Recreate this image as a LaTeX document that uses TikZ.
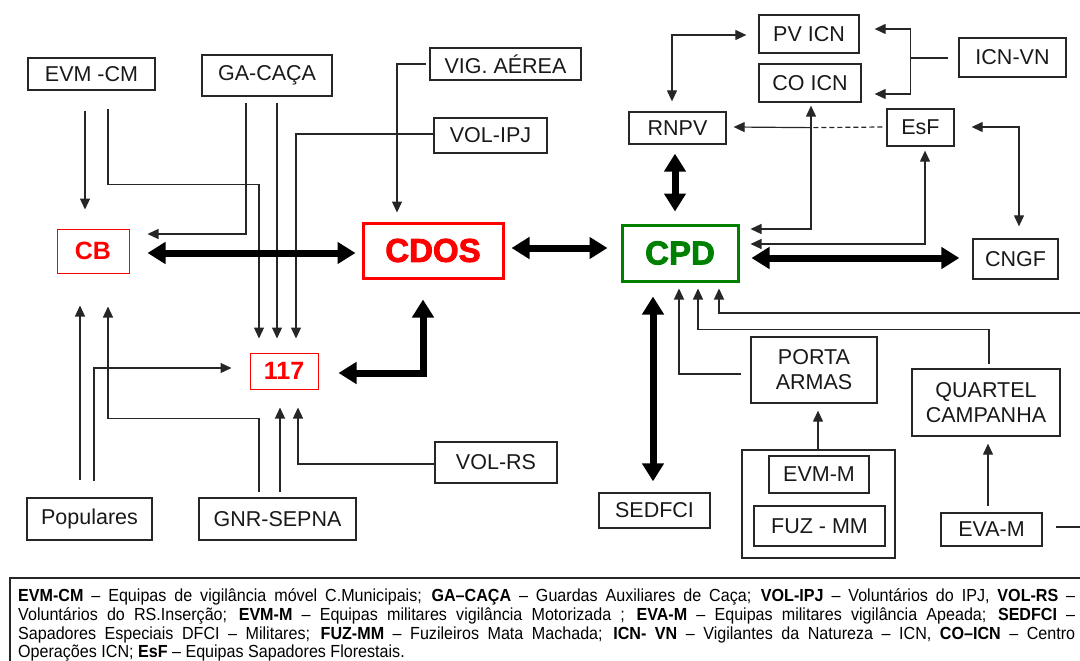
\documentclass[tikz,border=0pt]{standalone}
\usepackage{fontspec}
\setmainfont{Liberation Sans}
\newfontfamily\legendfont[FakeStretch=0.92]{Liberation Sans}
\newfontfamily\heavyfont[FakeBold=2.5]{Liberation Sans Bold}
\usetikzlibrary{arrows.meta,calc}
\definecolor{cpdgreen}{RGB}{0,128,0}
\definecolor{boxred}{RGB}{255,0,0}
\begin{document}
\begin{tikzpicture}[x=1pt,y=-1pt,
  box/.style={draw=black!85, line width=1.3pt, inner sep=0pt, align=center,
    font=\fontsize{21.5}{25}\selectfont, text=black!90},
  redbox/.style={draw=boxred, line width=1pt, inner sep=0pt, text=boxred,
    font=\fontsize{25}{28}\bfseries\selectfont},
  bigbox/.style={line width=3pt, inner sep=0pt, font=\heavyfont\fontsize{33}{36}\selectfont},
  plainline/.style={line width=1.2pt, draw=black!85},
  tarr/.style={plainline, -{Triangle[width=10pt,length=11pt]}},
  tarrr/.style={plainline, {Triangle[width=10pt,length=11pt]}-{Triangle[width=10pt,length=11pt]}},
  thk/.style={line width=7pt, draw=black, {Triangle[width=21pt,length=18pt]}-{Triangle[width=21pt,length=18pt]}},
  legtext/.style={anchor=base west, inner sep=0pt, font=\legendfont\fontsize{17.5}{19}\selectfont}
]
\useasboundingbox (0,0) rectangle (1080,661);

% ---- nodes, left part
\node[box, minimum width=127, minimum height=32] (evmcm) at (91.5,74) {EVM -CM};
\node[box, minimum width=130, minimum height=41] (gacaca) at (267,75.5) {GA-CAÇA};
\node[box, minimum width=151, minimum height=32] (vig) at (505.5,64) {VIG. AÉREA};
\node[box, minimum width=113, minimum height=35] (volipj) at (490.5,135.5) {VOL-IPJ};
\node[redbox, minimum width=72, minimum height=44] (cb) at (93,251) {CB};
\node[bigbox, draw=boxred, text=boxred, minimum width=140, minimum height=55] (cdos) at (433,250.5) {CDOS};
\node[redbox, minimum width=68, minimum height=36] (n117) at (284,371) {117};
\node[box, minimum width=122, minimum height=41] (volrs) at (496,462.5) {VOL-RS};
\node[box, minimum width=125, minimum height=42] (populares) at (89.5,519) {Populares};
\node[box, minimum width=157, minimum height=42] (gnr) at (277.5,519) {GNR-SEPNA};

% ---- nodes, right part
\node[box, minimum width=100, minimum height=38] (pvicn) at (809,34) {PV ICN};
\node[box, minimum width=102, minimum height=38] (coicn) at (810,83) {CO ICN};
\node[box, minimum width=107, minimum height=39] (icnvn) at (1012.5,57.5) {ICN-VN};
\node[box, minimum width=97, minimum height=32] (rnpv) at (677.5,128) {RNPV};
\node[box, minimum width=67, minimum height=37] (esf) at (920.5,127.5) {EsF};
\node[bigbox, draw=cpdgreen, text=cpdgreen, minimum width=116, minimum height=56] (cpd) at (680,253) {CPD};
\node[box, minimum width=85, minimum height=40] (cngf) at (1015.5,259) {CNGF};
\node[box, minimum width=111, minimum height=35] (sedfci) at (654.5,510.5) {SEDFCI};
\node[box, minimum width=126, minimum height=66] (porta) at (814,370) {PORTA\\ARMAS};
\node[box, minimum width=148, minimum height=67] (quartel) at (986,402.5) {QUARTEL\\CAMPANHA};
\node[box, minimum width=153, minimum height=108] (group) at (818.5,504) {};
\node[box, minimum width=100, minimum height=37] (evmm) at (819,474.5) {EVM-M};
\node[box, minimum width=131, minimum height=40] (fuz) at (819.5,526) {FUZ - MM};
\node[box, minimum width=101, minimum height=33] (evam) at (991.5,529.5) {EVA-M};

\coordinate (rightedge) at (1080,313);
\coordinate (evamedge) at (1080,527);

% ---- connectors, left part
\draw[tarr] ($(evmcm.south)+(-6.5,20)$) -- ($(cb.north)+(-8,-19)$);
\draw[tarr] ($(evmcm.south)+(16.5,18)$) |- ($(n117.north)+(-25,-168)$) -- ($(n117.north)+(-25,-14)$);
\draw[tarr] ($(gacaca.south)+(-21,6)$) |- ($(cb.east)+(18,-17)$);
\draw[tarr] ($(gacaca.south)+(10,6)$) -- ($(n117.north)+(-7,-14)$);
\draw[tarr] ($(volipj.west)+(0,-1.5)$) -| ($(n117.north)+(12,-14)$);
\draw[tarr] ($(vig.west)+(-3,0)$) -| ($(cdos.north)+(-36,-9)$);
\draw[thk] ($(cb.east)+(18,2)$) -- ($(cdos.west)+(-6,2.5)$);
\draw[thk] ($(cdos.east)+(7,-2.5)$) -- ($(cpd.west)+(-13,-5)$);
\draw[thk] ($(n117.east)+(20,2)$) -| ($(cdos.south)+(-10,20)$);
\draw[tarr] ($(populares.north)+(-9.5,-17)$) -- ($(cb.south)+(-13,32)$);
\draw[tarr] ($(populares.north)+(4.5,-16)$) |- ($(n117.west)+(-18,-3)$);
\draw[tarr] ($(gnr.north)+(-18.5,-5)$) |- ($(cb.south)+(15,145)$) -- ($(cb.south)+(15,33)$);
\draw[tarr] ($(gnr.north)+(2.5,-5)$) -- ($(n117.south)+(-4,18)$);
\draw[tarr] ($(volrs.west)+(0,1.5)$) -| ($(n117.south)+(14,18)$);

% ---- connectors, right part
\draw[tarrr] ($(rnpv.north)+(-5.5,-10)$) |- ($(pvicn.west)+(-12,1)$);
\draw[plainline] ($(icnvn.west)+(-10,0.5)$) -- ++(-38,0) coordinate (icnj);
\draw[tarr] (icnj) |- ($(pvicn.east)+(15,-5)$);
\draw[tarr] (icnj) |- ($(coicn.east)+(13,11)$);
\draw[plainline, dash pattern=on 5pt off 3pt] ($(esf.west)+(-4,-0.5)$) -- ($(coicn.south)+(1,25)$);
\draw[tarr] ($(coicn.south)+(1,25)$) -- ($(rnpv.east)+(7,-1)$);
\draw[tarrr] ($(coicn.south)+(1,3)$) |- ($(cpd.east)+(11,-24)$);
\draw[tarrr] ($(esf.south)+(4.5,4)$) |- ($(cpd.east)+(11,-9)$);
\draw[tarrr] ($(esf.east)+(17,-0.5)$) -| ($(cngf.north)+(3.5,-12)$);
\draw[thk] ($(rnpv.south)+(-2.5,9)$) -- ($(cpd.north)+(-5,-12)$);
\draw[thk] ($(cpd.east)+(12,5)$) -- ($(cngf.west)+(-13,-1)$);
\draw[thk] ($(cpd.south)+(-27,14)$) -- ($(sedfci.north)+(-1.5,-11)$);
\draw[tarr] ($(porta.west)+(-9,4)$) -| ($(cpd.south)+(-1,6)$);
\draw[tarr] ($(quartel.north)+(3,-4)$) |- ($(cpd.south)+(18,47)$) -- ($(cpd.south)+(18,6)$);
\draw[tarr] (rightedge) -| ($(cpd.south)+(39,6)$);
\draw[tarr] ($(group.north)+(-0.5,0)$) -- ($(porta.south)+(4,7)$);
\draw[tarr] ($(evam.north)+(-3.5,-6)$) -- ($(quartel.south)+(2,7)$);
\draw[plainline] ($(evam.east)+(13,-2.5)$) -- (evamedge);

% ---- legend
\draw[line width=1.2pt, draw=black!85] (1080,578) -- (10,578) -- (10,661);
\node[legtext] (leg1) at (18,601) {\makebox[1057pt][s]{\textbf{EVM-CM} – Equipas de vigilância móvel C.Municipais; \textbf{GA–CAÇA} – Guardas Auxiliares de Caça; \textbf{VOL-IPJ} – Voluntários do IPJ, \textbf{VOL-RS} –}};
\node[legtext] (leg2) at (18,620) {\makebox[1057pt][s]{Voluntários do RS.Inserção; \textbf{EVM-M} – Equipas militares vigilância Motorizada ; \textbf{EVA-M} – Equipas militares vigilância Apeada; \textbf{SEDFCI} –}};
\node[legtext] (leg3) at (18,639) {\makebox[1057pt][s]{Sapadores Especiais DFCI – Militares; \textbf{FUZ-MM} – Fuzileiros Mata Machada; \textbf{ICN- VN} – Vigilantes da Natureza – ICN, \textbf{CO–ICN} – Centro}};
\node[legtext] (leg4) at (18,657) {Operações ICN; \textbf{EsF} – Equipas Sapadores Florestais.};
\end{tikzpicture}
\end{document}
